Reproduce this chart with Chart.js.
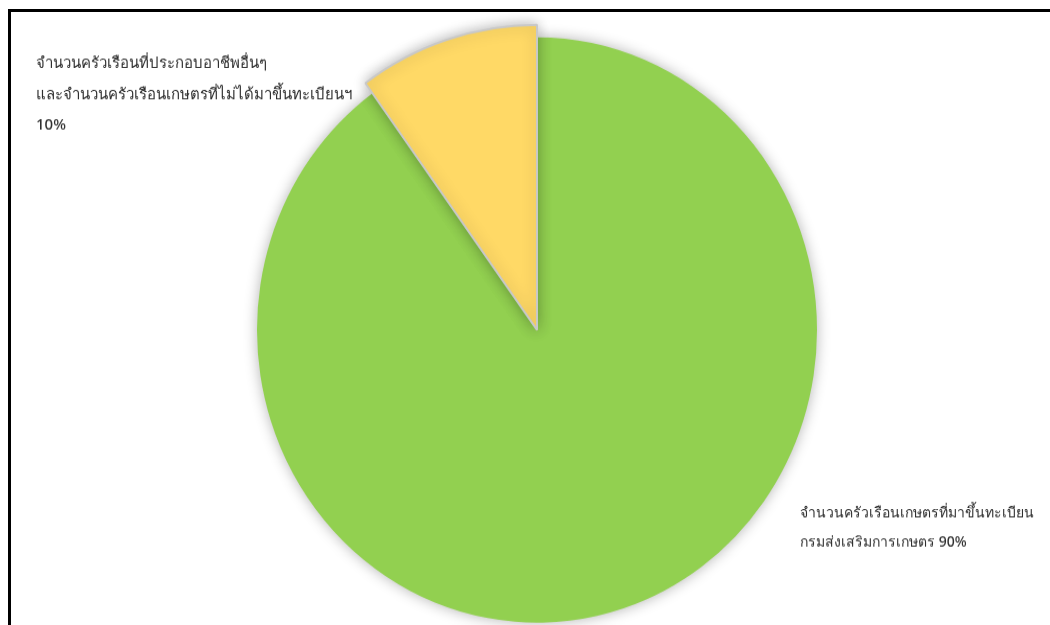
<!DOCTYPE html>
<html>
<head>
<meta charset="utf-8">
<script src="https://cdn.jsdelivr.net/npm/chart.js@4.4.1/dist/chart.umd.min.js"></script>
<style>
  html, body { margin: 0; padding: 0; background: #fff; width: 1050px; height: 625px; overflow: hidden; }
  #frame { position: absolute; left: 8px; top: 9px; right: 0; bottom: 0; border-top: 3px solid #000; border-left: 3px solid #000; }
  #c { position: absolute; left: 0; top: 0; transform-origin: 0 0; transform: scaleY(1.0452); }
</style>
</head>
<body>
<canvas id="c" width="1050" height="598"></canvas>
<div id="frame"></div>
<script>
const categories = [
  ["จำนวนครัวเรือนเกษตรที่มาขึ้นทะเบียน", "กรมส่งเสริมการเกษตร 90%"],
  ["จำนวนครัวเรือนที่ประกอบอาชีพอื่นๆ", "และจำนวนครัวเรือนเกษตรที่ไม่ได้มาขึ้นทะเบียนฯ", "10%"]
];
const values = [90, 10];
const colors = ["#92D050", "#FFD966"];

const shadowPlugin = {
  id: 'shadow',
  afterDatasetsUpdate(chart) {
    const meta = chart.getDatasetMeta(0);
    const arc = meta.data[1];
    if (arc) arc.outerRadius = arc.outerRadius + 12;
  },
  beforeDatasetDraw(chart) {
    const ctx = chart.ctx;
    ctx.save();
    ctx.shadowColor = 'rgba(0,0,0,0.30)';
    ctx.shadowBlur = 14;
    ctx.shadowOffsetX = 0;
    ctx.shadowOffsetY = 0;
  },
  afterDatasetDraw(chart) {
    chart.ctx.restore();
  }
};

const labelPlugin = {
  id: 'outerLabels',
  afterDraw(chart) {
    const ctx = chart.ctx;
    ctx.save();
    ctx.fillStyle = '#2e2e2e';
    ctx.textBaseline = 'alphabetic';
    ctx.textAlign = 'left';
    const pos = [
      { x: 800, y: 494.6, lh: 28, size: 14 },
      { x: 36, y: 65, lh: 29.5, size: 15 }
    ];
    categories.forEach((lines, i) => {
      ctx.font = '500 ' + pos[i].size + 'px "Noto Sans", "DejaVu Sans", sans-serif';
      lines.forEach((t, j) => ctx.fillText(t, pos[i].x, pos[i].y + j * pos[i].lh));
    });
    ctx.restore();
  }
};

new Chart(document.getElementById('c'), {
  type: 'pie',
  data: {
    labels: categories.map(l => l.join(' ')),
    datasets: [{
      data: values,
      backgroundColor: colors,
      borderColor: ['rgba(0,0,0,0)', '#C8C8C8'],
      borderWidth: [0, 2]
    }]
  },
  options: {
    responsive: false,
    animation: false,
    events: [],
    layout: { padding: { left: 24, right: 0, top: 34.7, bottom: 1.3 } },
    plugins: { legend: { display: false }, tooltip: { enabled: false } }
  },
  plugins: [shadowPlugin, labelPlugin]
});
</script>
</body>
</html>
